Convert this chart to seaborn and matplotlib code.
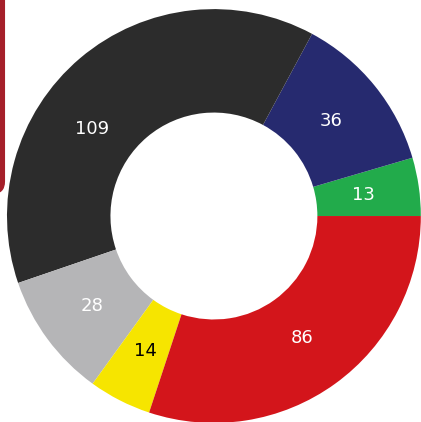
import matplotlib
matplotlib.use("Agg")
import matplotlib.pyplot as plt
import seaborn as sns
from matplotlib.patches import FancyBboxPatch

# Seats per party, counter-clockwise from 3 o'clock
parties = ["green", "blue", "black", "gray", "yellow", "red"]
seats = [13, 36, 109, 28, 14, 86]
colors = ["#22ab4b", "#262a6f", "#2c2c2c", "#b5b5b7", "#f6e500", "#d3151b"]
label_colors = ["white", "white", "white", "white", "black", "white"]

sns.set_theme(style="white")
palette = sns.color_palette(colors)

fig = plt.figure(figsize=(4.21, 4.22), dpi=100)
fig.patch.set_facecolor("white")

# dark red box peeking in at the top-left corner
box = FancyBboxPatch((-0.2, 0.54), 0.212, 0.6, boxstyle="round,pad=0,rounding_size=0.03",
                     transform=fig.transFigure, facecolor="#a51f2a", edgecolor="none")
fig.patches.append(box)

ax = fig.add_axes([0.0166, -0.0024, 0.983, 0.981])

wedges, texts, autotexts = ax.pie(
    seats,
    colors=palette,
    startangle=0,
    counterclock=True,
    radius=1,
    autopct=lambda p: f"{p * sum(seats) / 100:.0f}",
    pctdistance=0.73,
    wedgeprops=dict(width=0.5, edgecolor="none"),
    textprops=dict(fontsize=13),
)

ax.set_xlim(-1, 1)
ax.set_ylim(-1, 1)
ax.axis("off")

for t, c in zip(autotexts, label_colors):
    t.set_color(c)

# the big black label sits lower than its wedge middle
autotexts[2].set_position((-0.59, 0.42))

fig.savefig("out.png", dpi=100)
